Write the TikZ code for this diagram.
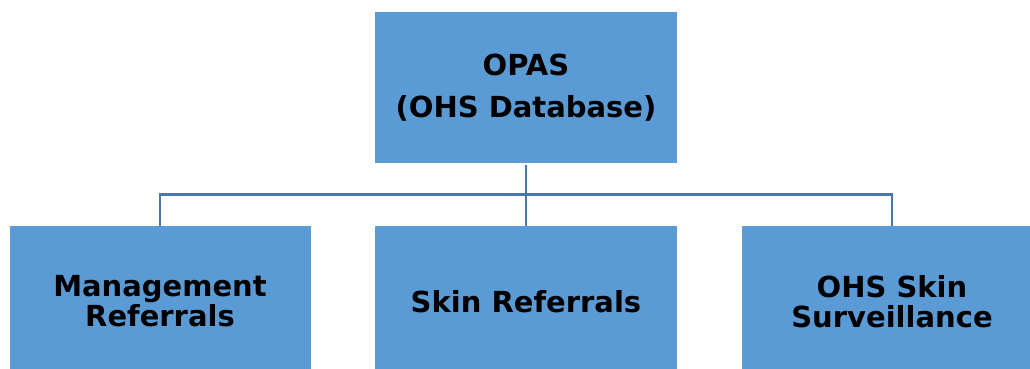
\documentclass[tikz,border=0pt]{standalone}
\usepackage{fontspec}
\setmainfont{DejaVu Sans}
\begin{document}
\begin{tikzpicture}[x=1pt,y=-1pt,
  unit/.style={draw=none, fill=boxblue, minimum width=#1, inner sep=0pt,
    align=center, font=\bfseries\fontsize{29}{30}\selectfont, text=black},
  link/.style={draw=linkblue, line width=2.3pt}]
\definecolor{boxblue}{HTML}{5B9BD5}
\definecolor{linkblue}{HTML}{4A78AA}
\useasboundingbox (0,0) rectangle (1030,369);
\clip (0,0) rectangle (1030,369);
% top unit
\node[unit=302pt, minimum height=150pt] (opas) at (526,87.5)
  {OPAS\\[12pt](OHS Database)};
% lower units (they run past the lower edge)
\node[unit=301pt, minimum height=151pt] (mgmt) at (160,301.5) {Management\\Referrals};
\node[unit=302pt, minimum height=151pt] (skin) at (526,301.5) {Skin Referrals};
\node[unit=300pt, minimum height=151pt] (surv) at (892,301.5) {OHS Skin\\Surveillance};
% branching connector
\coordinate (hub) at (526,194.5);
\draw[link] (opas.south) ++(0,2) -- (hub);
\draw[link] (hub) -- (skin.north);
\draw[link] (mgmt.north) -- (mgmt.north |- hub) -- (surv.north |- hub) -- (surv.north);
\end{tikzpicture}
\end{document}
